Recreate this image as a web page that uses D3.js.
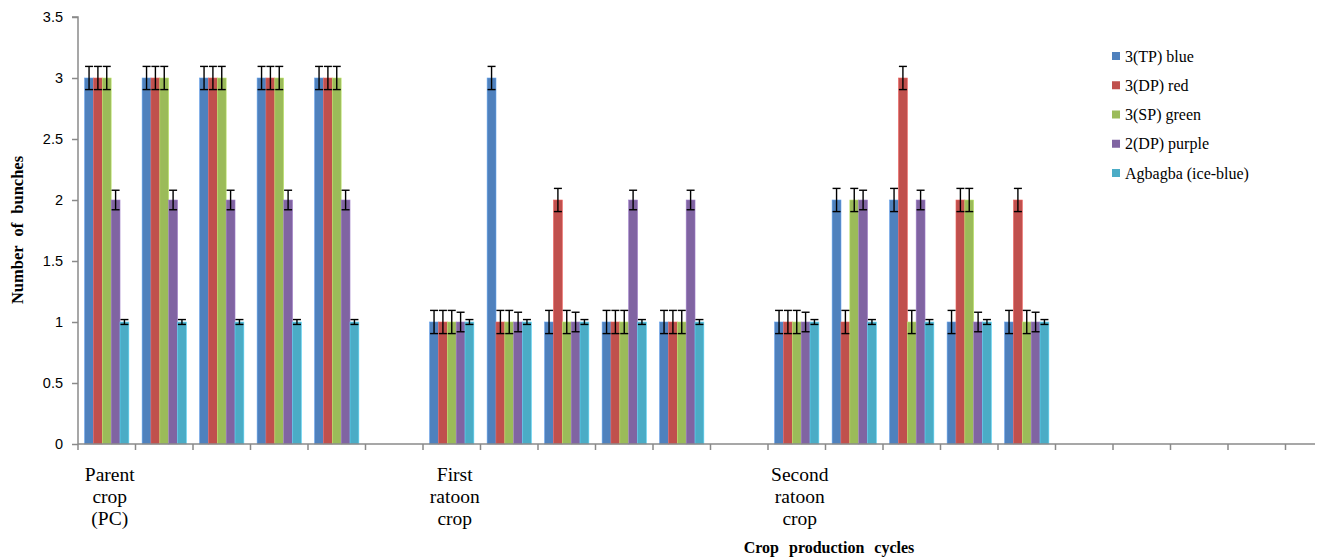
<!DOCTYPE html>
<html>
<head>
<meta charset="utf-8">
<script src="https://cdn.jsdelivr.net/npm/d3@7"></script>
<style>
  html, body { margin: 0; padding: 0; background: #fff; }
  svg { display: block; }
</style>
</head>
<body>
<div id="chart"></div>
<script>
// ---------- DATA ----------
const categories = ["PC1","PC2","PC3","PC4","PC5","gapA",
                    "FR1","FR2","FR3","FR4","FR5","gapB",
                    "SR1","SR2","SR3","SR4","SR5",
                    "e1","e2","e3","e4","e5"];
const cycleLabels = [
  { at: "PC1", lines: ["Parent", "crop", "(PC)"] },
  { at: "FR1", lines: ["First", "ratoon", "crop"] },
  { at: "SR1", lines: ["Second", "ratoon", "crop"] }
];
const seriesNames = ["3(TP) blue", "3(DP) red", "3(SP) green", "2(DP) purple", "Agbagba (ice-blue)"];
const seriesColors = ["#4F81BD", "#C0504D", "#9BBB59", "#8064A2", "#4BACC6"];
const valuesTPblue   = [3,3,3,3,3,null, 1,3,1,1,1,null, 1,2,2,1,1, null,null,null,null,null];
const valuesDPred    = [3,3,3,3,3,null, 1,1,2,1,1,null, 1,1,3,2,2, null,null,null,null,null];
const valuesSPgreen  = [3,3,3,3,3,null, 1,1,1,1,1,null, 1,2,1,2,1, null,null,null,null,null];
const valuesDPpurple = [2,2,2,2,2,null, 1,1,1,2,2,null, 1,2,2,1,1, null,null,null,null,null];
const valuesAgbagba  = [1,1,1,1,1,null, 1,1,1,1,1,null, 1,1,1,1,1, null,null,null,null,null];
const seriesErrors = [0.095, 0.095, 0.095, 0.08, 0.02];
const yTicks = [0, 0.5, 1, 1.5, 2, 2.5, 3, 3.5];
const xTitle = "Crop production cycles";
const yTitle = "Number of bunches";

const seriesValues = [valuesTPblue, valuesDPred, valuesSPgreen, valuesDPpurple, valuesAgbagba];

// ---------- LAYOUT ----------
const W = 1318, H = 559;
const plot = { left: 78, top: 17, bottom: 444, right: 1315 };
const catStep = 57.5;

const svg = d3.select("#chart").append("svg")
  .attr("width", W).attr("height", H)
  .style("background", "#fff");

const x = d3.scaleBand()
  .domain(categories)
  .range([plot.left, plot.left + catStep * categories.length])
  .paddingInner(0).paddingOuter(0);

const xs = d3.scaleBand()
  .domain(d3.range(seriesNames.length))
  .range([0, x.bandwidth()])
  .paddingInner(0)
  .paddingOuter(0.75);

const y = d3.scaleLinear().domain([0, 3.5]).range([plot.bottom, plot.top]);

const axisColor = "#8a8a8a";

// bars
const bars = [];
seriesValues.forEach((vals, s) => {
  vals.forEach((v, i) => {
    if (v !== null) bars.push({ cat: categories[i], s, v, e: seriesErrors[s] });
  });
});

const g = svg.append("g");
g.selectAll("rect.bar").data(bars).enter().append("rect")
  .attr("class", "bar")
  .attr("x", d => x(d.cat) + xs(d.s))
  .attr("y", d => y(d.v))
  .attr("width", xs.bandwidth())
  .attr("height", d => y(0) - y(d.v))
  .attr("fill", d => seriesColors[d.s])
  .attr("stroke", d => d3.color(seriesColors[d.s]).brighter(0.6))
  .attr("stroke-width", 0.6);

// error bars
const eb = g.selectAll("g.err").data(bars).enter().append("g").attr("class", "err")
  .attr("stroke", "#000").attr("stroke-width", 1.4);
const cx = d => x(d.cat) + xs(d.s) + xs.bandwidth() / 2;
const capHalf = 4;
eb.append("line")
  .attr("x1", cx).attr("x2", cx)
  .attr("y1", d => y(d.v + d.e)).attr("y2", d => y(d.v - d.e));
eb.append("line")
  .attr("x1", d => cx(d) - capHalf).attr("x2", d => cx(d) + capHalf)
  .attr("y1", d => y(d.v + d.e)).attr("y2", d => y(d.v + d.e));
eb.append("line")
  .attr("x1", d => cx(d) - capHalf).attr("x2", d => cx(d) + capHalf)
  .attr("y1", d => y(d.v - d.e)).attr("y2", d => y(d.v - d.e));

// y axis
const yAxis = svg.append("g")
  .attr("transform", `translate(${plot.left},0)`)
  .call(d3.axisLeft(y).tickValues(yTicks).tickSize(6).tickPadding(9)
    .tickFormat(d => d3.format("")(d)));
yAxis.select(".domain").attr("stroke", axisColor).attr("stroke-width", 1.5)
  .attr("d", `M-6,${plot.top}H0V${plot.bottom}`);
yAxis.selectAll(".tick line").attr("stroke", axisColor).attr("stroke-width", 1.5);
yAxis.selectAll(".tick text")
  .attr("font-family", "'Liberation Sans', Arial, sans-serif")
  .attr("font-size", 14.5).attr("fill", "#000");

// x axis: ticks at category boundaries
const boundaries = categories.map(c => x(c)).concat([x.range()[1]]);
const xAxisG = svg.append("g");
xAxisG.append("line")
  .attr("x1", plot.left).attr("x2", plot.right)
  .attr("y1", plot.bottom).attr("y2", plot.bottom)
  .attr("stroke", axisColor).attr("stroke-width", 1.5);
xAxisG.selectAll("line.tk").data(boundaries.filter(b => b <= plot.right)).enter()
  .append("line").attr("class", "tk")
  .attr("x1", d => d).attr("x2", d => d)
  .attr("y1", plot.bottom).attr("y2", plot.bottom + 6)
  .attr("stroke", axisColor).attr("stroke-width", 1.5);

// category labels
const lab = svg.append("g")
  .attr("font-family", "'Liberation Serif', 'Times New Roman', serif")
  .attr("font-size", 19.5).attr("fill", "#000").attr("text-anchor", "middle");
cycleLabels.forEach(cl => {
  const t = lab.append("text")
    .attr("x", x(cl.at) + x.bandwidth() / 2 + 3)
    .attr("y", 481);
  cl.lines.forEach((ln, i) => {
    t.append("tspan").attr("x", x(cl.at) + x.bandwidth() / 2 + 3)
      .attr("dy", i === 0 ? 0 : 22).text(ln);
  });
});

// axis titles
svg.append("text")
  .attr("x", 829).attr("y", 553)
  .attr("text-anchor", "middle")
  .attr("font-family", "'Liberation Serif', 'Times New Roman', serif")
  .attr("font-weight", "bold").attr("font-size", 16)
  .attr("word-spacing", 6)
  .text(xTitle);

svg.append("text")
  .attr("transform", "translate(23,230) rotate(-90)")
  .attr("text-anchor", "middle")
  .attr("font-family", "'Liberation Serif', 'Times New Roman', serif")
  .attr("font-weight", "bold").attr("font-size", 16.5)
  .attr("word-spacing", 5)
  .text(yTitle);

// legend
const legend = svg.append("g")
  .attr("font-family", "'Liberation Serif', 'Times New Roman', serif")
  .attr("font-size", 16);
const legendY = d3.scalePoint().domain(seriesNames).range([56, 173]);
seriesNames.forEach((n, i) => {
  const ly = legendY(n);
  legend.append("rect")
    .attr("x", 1112).attr("y", ly - 4).attr("width", 8).attr("height", 8)
    .attr("fill", seriesColors[i]);
  legend.append("text")
    .attr("x", 1125).attr("y", ly).attr("dy", "0.35em")
    .attr("fill", "#000").text(n);
});
</script>
</body>
</html>
